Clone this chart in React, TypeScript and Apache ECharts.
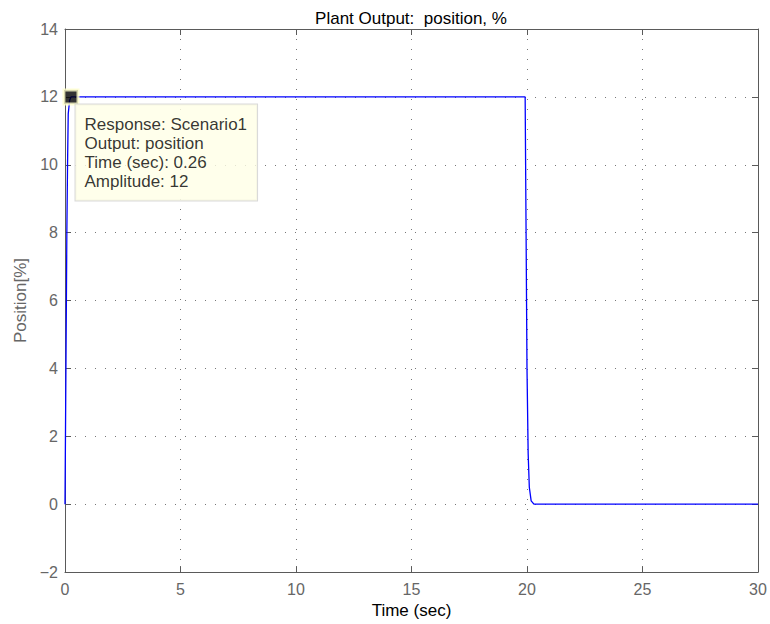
import React, { useEffect, useRef } from "react";
import * as echarts from "echarts";

const titleText = "Plant Output:  position, %";
const xName = "Time (sec)";
const yName = "Position[%]";

const timeSec = [0, 0.04, 0.08, 0.11, 0.14, 0.2, 0.26, 19.92, 19.96, 20.0, 20.05, 20.1, 20.18, 20.3, 30];
const amplitude = [0, 4, 8, 10, 11.5, 11.9, 12, 12, 8, 4, 1.5, 0.5, 0.1, 0, 0];

const tipTime = [0.26];
const tipAmplitude = [12];
const tipLines = ["Response: Scenario1", "Output: position", "Time (sec): 0.26", "Amplitude: 12"];

const FONT = "'Liberation Sans', Arial, Helvetica, sans-serif";
const AXIS_COLOR = "#5a5a5a";
const LABEL_COLOR = "#666666";

export default function App() {
  const ref = useRef<HTMLDivElement>(null);
  useEffect(() => {
    if (!ref.current) return;
    const chart = echarts.init(ref.current, undefined, { renderer: "svg" });
    const frameAxis = {
      show: true,
      onZero: false,
      lineStyle: { color: AXIS_COLOR, width: 1 },
    };
    const tick = { show: true, inside: true, length: 6, lineStyle: { color: AXIS_COLOR } };
    const grid = {
      show: true,
      lineStyle: { color: "#777777", type: [1, 9] as any, width: 1 },
    };
    chart.setOption({
      animation: false,
      backgroundColor: "#ffffff",
      title: {
        text: titleText,
        left: 411,
        textAlign: "center",
        top: 10,
        padding: 0,
        textStyle: { fontFamily: FONT, fontSize: 17, fontWeight: "normal", color: "#000" },
      },
      grid: { left: 65, right: 12, top: 29, bottom: 51, containLabel: false },
      xAxis: [
        {
          type: "value",
          min: 0,
          max: 30,
          interval: 5,
          position: "bottom",
          name: xName,
          nameLocation: "middle",
          nameGap: 29,
          nameTextStyle: { fontFamily: FONT, fontSize: 17, color: "#000" },
          axisLine: frameAxis,
          axisTick: tick,
          axisLabel: { fontFamily: FONT, fontSize: 16, color: LABEL_COLOR, margin: 9 },
          splitLine: grid,
        },
        {
          type: "value",
          min: 0,
          max: 30,
          interval: 5,
          position: "top",
          axisLine: frameAxis,
          axisTick: tick,
          axisLabel: { show: false },
          splitLine: { show: false },
        },
      ],
      yAxis: [
        {
          type: "value",
          min: -2,
          max: 14,
          interval: 2,
          position: "left",
          name: yName,
          nameLocation: "middle",
          nameGap: 36,
          nameTextStyle: { fontFamily: FONT, fontSize: 17, color: LABEL_COLOR },
          axisLine: frameAxis,
          axisTick: tick,
          axisLabel: {
            fontFamily: FONT,
            fontSize: 16,
            color: LABEL_COLOR,
            margin: 7,
            formatter: (v: number) => String(v).replace("-", "\u2212"),
          },
          splitLine: grid,
        },
        {
          type: "value",
          min: -2,
          max: 14,
          interval: 2,
          position: "right",
          axisLine: frameAxis,
          axisTick: tick,
          axisLabel: { show: false },
          splitLine: { show: false },
        },
      ],
      series: [
        {
          type: "line",
          xAxisIndex: 0,
          yAxisIndex: 0,
          data: timeSec.map((t, i) => [t, amplitude[i]]),
          showSymbol: false,
          symbol: "none",
          lineStyle: { color: "#0000ff", width: 1.3 },
          z: 3,
        },
        {
          type: "scatter",
          xAxisIndex: 0,
          yAxisIndex: 0,
          data: tipTime.map((t, i) => [t, tipAmplitude[i]]),
          symbol: "rect",
          symbolSize: 14,
          itemStyle: { color: "#000000", borderColor: "#ffffcc", borderWidth: 3 },
          z: 5,
          label: {
            show: true,
            position: [13, 16],
            align: "left",
            verticalAlign: "top",
            formatter: () => tipLines.join("\n"),
            fontFamily: FONT,
            fontSize: 17,
            lineHeight: 19,
            color: "#000",
            backgroundColor: "#ffffe6",
            borderColor: "#cfcfcf",
            borderWidth: 1,
            padding: [11, 10, 9, 9],
          },
        },
      ],
    });
    return () => chart.dispose();
  }, []);
  return (
    <div
      ref={ref}
      style={{ position: "fixed", left: 0, top: 0, width: 770, height: 624, background: "#fff" }}
    />
  );
}
